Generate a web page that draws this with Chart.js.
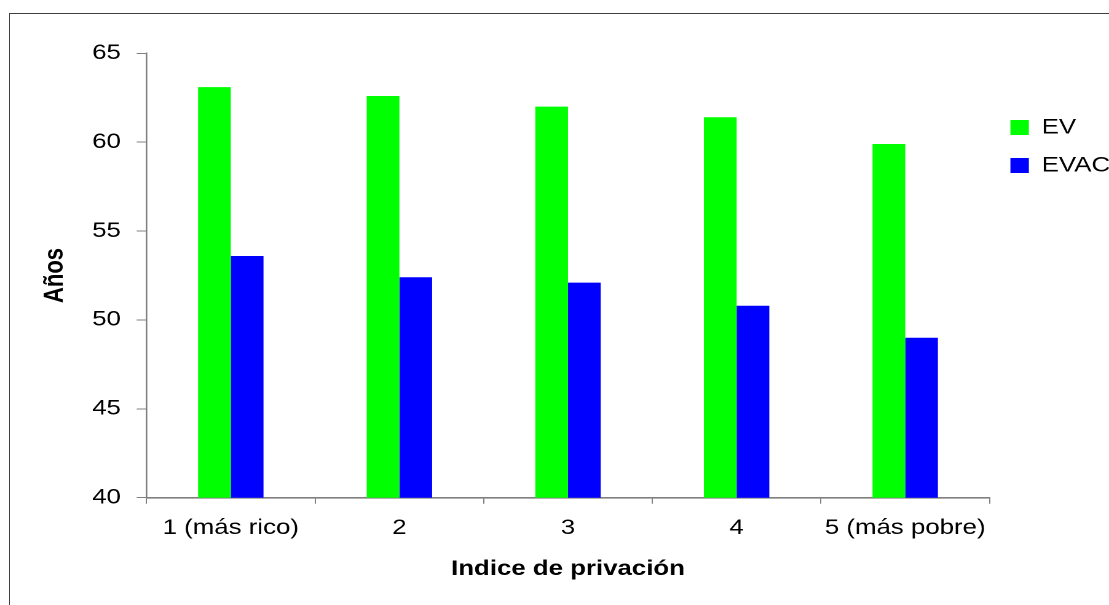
<!DOCTYPE html>
<html>
<head>
<meta charset="utf-8">
<title>Esperanza de vida por índice de privación</title>
<script src="https://cdn.jsdelivr.net/npm/chart.js@4/dist/chart.umd.min.js"></script>
<style>
  html, body { margin: 0; padding: 0; background: #fff; width: 1109px; height: 605px; overflow: hidden; }
  #frame { position: absolute; left: 9px; top: 13px; width: 1200px; height: 700px;
           border-left: 1px solid #404040; border-top: 1px solid #404040; }
  #chart { position: absolute; left: 0; top: 0; transform-origin: 0 0; }
</style>
</head>
<body>
<div id="frame"></div>
<canvas id="chart"></canvas>
<script>
// Categories and series
const categories = ['1 (más rico)', '2', '3', '4', '5 (más pobre)'];
const evValues   = [63.1, 62.6, 62.0, 61.4, 59.9];
const evacValues = [53.6, 52.4, 52.1, 50.8, 49.0];
const seriesNames = ['EV', 'EVAC'];
const xTitle = 'Indice de privación';
const yTitle = 'Años';
const yMin = 40, yMax = 65, yStep = 5;

// The figure is drawn on a narrower canvas and widened horizontally,
// which gives the broad lettering of the original figure.
const PAGE_W = 1109, PAGE_H = 605;
const CANVAS_W = 902;
const STRETCH = PAGE_W / CANVAS_W;

// Plot-area edges (canvas units)
const PLOT_LEFT = 146.5 / STRETCH;
const PLOT_RIGHT = 989.5 / STRETCH;
const PLOT_TOP = 53.3;
const PLOT_BOTTOM = 497.7;

const canvas = document.getElementById('chart');
canvas.width = CANVAS_W;
canvas.height = PAGE_H;
canvas.style.transform = 'scaleX(' + STRETCH + ')';

Chart.defaults.font.family = '"Liberation Sans", Arial, Helvetica, sans-serif';
Chart.defaults.color = '#000';

const AXIS_GREY = '#808080';

new Chart(canvas, {
  type: 'bar',
  data: {
    labels: categories,
    datasets: [
      { label: seriesNames[0], data: evValues, backgroundColor: '#00ff00', borderWidth: 0 },
      { label: seriesNames[1], data: evacValues, backgroundColor: '#0000ff', borderWidth: 0 }
    ]
  },
  options: {
    responsive: false,
    animation: false,
    devicePixelRatio: 2,
    categoryPercentage: 0.388,
    barPercentage: 1.0,
    layout: { padding: { top: PLOT_TOP, left: 0, right: 0, bottom: 0 } },
    plugins: {
      tooltip: { enabled: false },
      legend: {
        position: 'right',
        align: 'start',
        maxWidth: CANVAS_W - PLOT_RIGHT,
        title: { display: true, text: ' ', font: { size: 10 }, padding: { top: 34.7, bottom: 0 } },
        labels: { boxWidth: 15, boxHeight: 15, padding: 17, font: { size: 21 }, color: '#000' }
      }
    },
    scales: {
      x: {
        afterFit: (scale) => { scale.height = PAGE_H - PLOT_BOTTOM; },
        grid: { offset: true, drawOnChartArea: false, drawTicks: true, tickLength: 6,
                color: AXIS_GREY, lineWidth: 1 },
        border: { display: true, color: AXIS_GREY, width: 1.6 },
        ticks: { font: { size: 21 }, padding: 12, maxRotation: 0, minRotation: 0, autoSkip: false, color: '#000' },
        title: { display: true, text: xTitle, font: { size: 21, weight: 'bold' },
                 padding: { top: 0, bottom: 23.4 }, color: '#000' }
      },
      y: {
        min: yMin,
        max: yMax,
        afterFit: (scale) => { scale.width = PLOT_LEFT; },
        grid: { drawOnChartArea: false, drawTicks: true, tickLength: 8, color: AXIS_GREY, lineWidth: 1 },
        border: { display: true, color: AXIS_GREY, width: 1.3 },
        ticks: { stepSize: yStep, font: { size: 21 }, padding: 12.8, color: '#000' },
        title: { display: true, text: yTitle, font: { size: 22, weight: 'bold' },
                 padding: { top: 31.5, bottom: 0 }, color: '#000' }
      }
    }
  }
});
</script>
</body>
</html>
